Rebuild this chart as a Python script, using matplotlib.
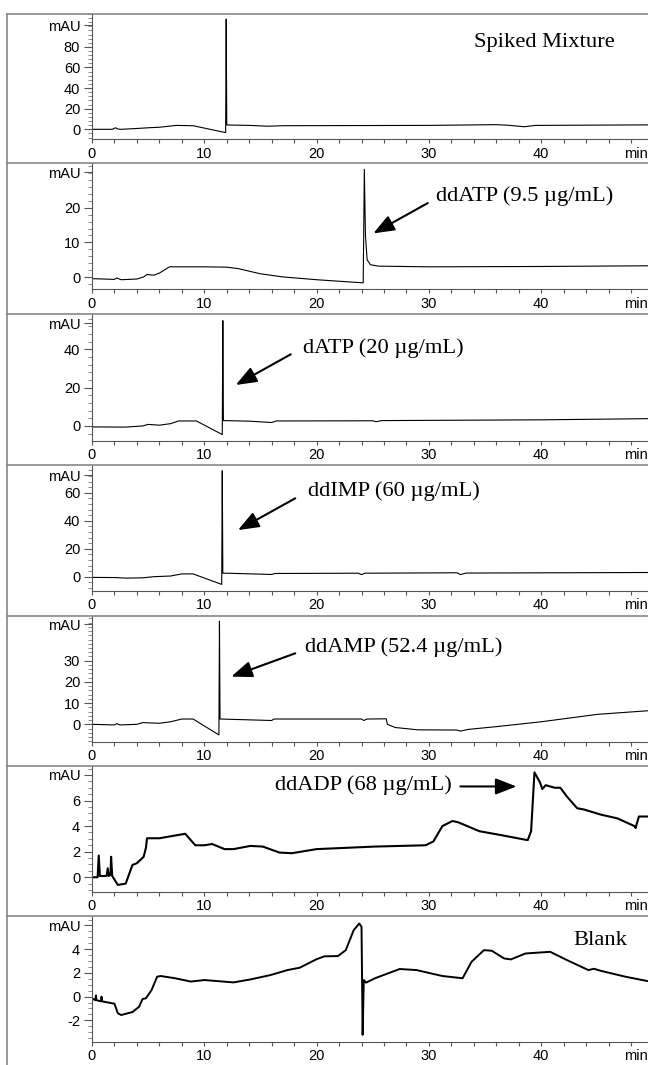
import matplotlib
matplotlib.use('Agg')
import matplotlib.pyplot as plt
from matplotlib.lines import Line2D
from matplotlib.ticker import MultipleLocator

W, H = 648, 1065

# retention time (min) and absorbance (mAU)
t_mix = [0, 1.8, 2.1, 2.3, 2.6, 4, 5, 6, 7.5, 9, 11.9, 11.95, 12.0, 14, 15.7, 17, 30, 36, 37, 38.5, 39.5, 49.5]
a_mix = [0, 0, 1.5, 0.3, 0, 0.8, 1.5, 2, 3.8, 3.5, -3.2, 107, 4.2, 3.8, 3.0, 3.5, 3.8, 4.5, 4.0, 2.5, 3.8, 4.3]

t_ddatp = [0, 2, 2.2, 2.6, 4, 4.6, 4.9, 5.5, 6.0, 6.4, 6.9, 10, 12, 13, 15, 17, 20, 24.15, 24.25,
           24.35, 24.5, 24.8, 25.5, 30, 40, 49.5]
a_ddatp = [-0.4, -0.6, -0.2, -0.7, -0.5, 0.1, 0.8, 0.6, 1.2, 2.0, 3.0, 3.0, 2.9, 2.5, 1.0, 0.1, -0.7, -1.6, 31,
           12, 5, 3.6, 3.2, 3.0, 3.1, 3.3]

t_datp = [0, 3, 4.5, 5, 6, 7, 7.7, 9.3, 11.6, 11.65, 11.7, 14, 16, 16.4, 25, 25.3, 25.8, 40, 49.5]
a_datp = [-0.5, -0.6, 0, 0.8, 0.4, 1.2, 2.6, 2.6, -4.5, 55, 2.8, 2.5, 1.8, 2.6, 2.7, 2.2, 2.8, 3.2, 3.8]

t_ddimp = [0, 2, 3, 4.5, 5.5, 7, 8, 9, 11.55, 11.6, 11.65, 12, 16, 16.3, 23.7, 24, 24.3, 32.5, 32.8, 33.3, 49.5]
a_ddimp = [-0.5, -0.6, -1.0, -0.8, 0, 0.5, 2, 2, -5.5, 75.7, 2.5, 2.5, 1.6, 2.3, 2.5, 1.5, 2.5, 2.8, 1.5, 2.6, 3.0]

t_ddamp = [0, 2, 2.2, 2.5, 4, 4.5, 6, 7, 8, 9, 11.3, 11.35, 11.4, 16, 16.2, 24, 24.2, 24.5, 26.2, 26.3,
           27, 29, 32.5, 32.8, 33.5, 36, 40, 45, 49.5]
a_ddamp = [0, -0.3, 0.3, -0.3, 0, 0.8, 0.5, 1.2, 2.5, 2.5, -5.0, 48.7, 2.5, 1.8, 2.5, 2.5, 1.8, 2.5, 2.6, 0,
           -1.5, -2.6, -2.7, -3.2, -2.4, -1.1, 1.2, 4.7, 6.4]

t_ddadp = [0, 0.5, 0.6, 0.7, 1.3, 1.4, 1.5, 1.65, 1.7, 1.8, 2.3, 3.0, 3.6, 4.0, 4.6, 4.8, 4.9, 6.0, 8.3,
           9.2, 10.0, 10.7, 11.8, 12.6, 14.1, 15.2, 16.7, 17.8, 20, 25.2, 29.7, 30.4, 31.2, 32.1, 32.6,
           34.5, 36.4, 38.8, 39.1, 39.4, 39.9, 40.1, 40.4, 41.2, 41.7, 42.3, 43.2, 43.8, 45.3, 46.8,
           48.3, 48.4, 48.7, 49.5]
a_ddadp = [0, 0, 1.7, 0.1, 0.1, 0.7, 0.1, 0.2, 1.6, 0.1, -0.6, -0.5, 0.96, 1.1, 1.6, 2.3, 3.05, 3.05, 3.4,
           2.5, 2.5, 2.6, 2.2, 2.2, 2.45, 2.4, 1.93, 1.88, 2.2, 2.4, 2.5, 2.8, 4.0, 4.4, 4.3,
           3.6, 3.3, 2.9, 3.6, 8.2, 7.4, 6.9, 7.2, 7.0, 7.0, 6.3, 5.4, 5.3, 4.9, 4.6,
           4.0, 3.85, 4.75, 4.75]

t_blank = [0, 0.3, 0.35, 0.4, 0.8, 0.85, 0.9, 1.8, 2.0, 2.3, 2.6, 3.6, 4.2, 4.5, 4.8, 5.3, 5.8, 6.1, 7.4,
           8.8, 10, 12.6, 14.1, 15.9, 17.4, 18.5, 20, 20.7, 21.9, 22.6, 23.3, 23.8, 24.0, 24.1, 24.2,
           24.4, 25.2, 27.4, 28.9, 31.2, 33, 33.8, 34.9, 35.6, 36.7, 37.3, 38.6, 40.8, 42.3, 44.2,
           44.7, 45.3, 47.5, 49.7]
a_blank = [-0.14, -0.3, 0.1, -0.3, -0.4, 0.0, -0.4, -0.56, -0.6, -1.4, -1.55, -1.3, -0.85, -0.2, -0.14, 0.55,
           1.68, 1.74, 1.55, 1.27, 1.4, 1.2, 1.45, 1.82, 2.24, 2.44, 3.16, 3.4, 3.42, 3.92, 5.6, 6.17,
           5.88, -3.22, 1.4, 1.18, 1.55, 2.33, 2.24, 1.74, 1.55, 2.94, 3.92, 3.87, 3.22, 3.14, 3.64,
           3.78, 3.08, 2.24, 2.35, 2.18, 1.68, 1.27]

times = [t_mix, t_ddatp, t_datp, t_ddimp, t_ddamp, t_ddadp, t_blank]
signals = [a_mix, a_ddatp, a_datp, a_ddimp, a_ddamp, a_ddadp, a_blank]

# y ticks per panel, and where the "mAU" unit sits on the axis
yticks = [[0, 20, 40, 60, 80], [0, 10, 20], [0, 20, 40], [0, 20, 40, 60],
          [0, 10, 20, 30], [0, 2, 4, 6], [-2, 0, 2, 4]]
mau_pos = [101, 30.2, 53.6, 72.6, 47.2, 8.0, 6.0]
yminor = [4, 2, 4, 4, 2, 0.5, 0.5]
ylims = [(-9.4, 112.4), (-3.45, 32.8), (-7.7, 58.3), (-10, 79.8),
         (-8.2, 51.1), (-1.13, 8.7), (-3.8, 6.8)]
line_w = [0.8, 0.8, 0.8, 0.8, 0.8, 1.5, 1.4]

# labels: text, text position, arrow tail, arrow tip (None = no arrow)
labels = ['Spiked Mixture', 'ddATP (9.5 \u00b5g/mL)', 'dATP (20 \u00b5g/mL)', 'ddIMP (60 \u00b5g/mL)',
          'ddAMP (52.4 \u00b5g/mL)', 'ddADP (68 \u00b5g/mL)', 'Blank']
label_xy = [(34.0, 84), (30.6, 23.2), (18.8, 40.5), (19.2, 61.2), (19.0, 36.6), (16.3, 7.24), (42.9, 4.76)]
arrow_from = [None, (29.9, 21.3), (17.7, 37.4), (18.1, 56), (18.1, 33.5), (32.8, 7.1), None]
arrow_to = [None, (25.05, 12.6), (12.8, 21.4), (13.0, 33.3), (12.4, 22.5), (37.8, 7.1), None]

# pixel rows: panel top and x-axis line
panel_top = [13.5, 163, 314.3, 465, 616, 766, 916]
axis_line = [139, 289.3, 440.7, 590.7, 741.7, 891.7, 1041.7]

fig = plt.figure(figsize=(W / 100, H / 100), dpi=100)
x0 = 92
xmax = (W - x0) / 11.23
tick_font = {'family': 'Liberation Sans', 'size': 10.5}

for i in range(7):
    ax = fig.add_axes([x0 / W, 1 - axis_line[i] / H, 1 - x0 / W, (axis_line[i] - panel_top[i]) / H])
    ax.plot(times[i], signals[i], color='black', lw=line_w[i], solid_joinstyle='round')
    ax.set_xlim(0, xmax)
    ax.set_ylim(*ylims[i])
    for s in ['top', 'right']:
        ax.spines[s].set_visible(False)
    ax.spines['left'].set_color('#555555')
    ax.spines['bottom'].set_color('#555555')
    ax.set_xticks([0, 10, 20, 30, 40])
    ax.set_xticklabels(['0', '10', '20', '30', '40'], fontdict=tick_font)
    ax.xaxis.set_minor_locator(MultipleLocator(2))
    ax.tick_params(axis='x', which='both', direction='out', length=3, width=0.8, pad=2.5, colors='#555555',
                   labelcolor='black')
    ax.set_yticks(yticks[i] + [mau_pos[i]])
    ax.set_yticklabels([str(v) for v in yticks[i]] + ['mAU'], fontdict=tick_font)
    ax.yaxis.set_minor_locator(MultipleLocator(yminor[i]))
    ax.tick_params(axis='y', which='major', length=5.5, width=0.8, pad=3, colors='#555555', labelcolor='black')
    ax.tick_params(axis='y', which='minor', length=2.7, width=0.6, colors='#777777')
    ax.annotate('min', xy=(1, 0), xycoords='axes fraction', xytext=(0, -5.5), textcoords='offset points',
                ha='right', va='top', **tick_font)

    ax.text(label_xy[i][0], label_xy[i][1], labels[i], family='Liberation Serif', size=16.2,
            ha='left', va='center')
    if arrow_from[i] is not None:
        ax.annotate('', xy=arrow_to[i], xytext=arrow_from[i],
                    arrowprops=dict(arrowstyle='-|>,head_length=0.85,head_width=0.33', color='black',
                                    lw=1.5, mutation_scale=15, shrinkA=0, shrinkB=0))

# panel frame lines
frame_c = '#888888'
fig.add_artist(Line2D([7 / W, 7 / W], [0, 1 - 13.5 / H], color=frame_c, lw=1.2))
for y in panel_top:
    fig.add_artist(Line2D([7 / W, 1], [1 - y / H, 1 - y / H], color=frame_c, lw=1.2))

fig.savefig('out.png', dpi=100)
